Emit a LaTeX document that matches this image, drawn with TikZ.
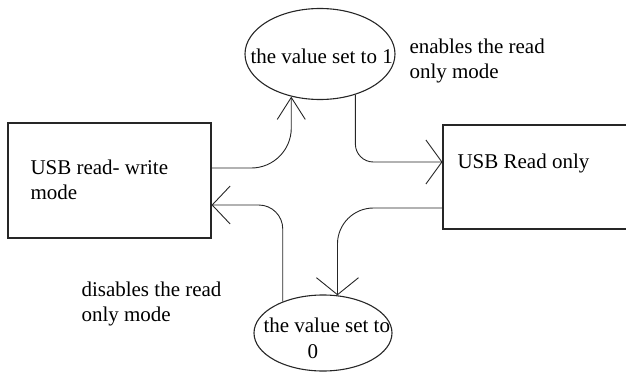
\documentclass[tikz,border=0pt]{standalone}
\usepackage{fontspec}
\setmainfont{Liberation Serif}
\usetikzlibrary{arrows.meta,shapes.geometric}
\begin{document}
\begin{tikzpicture}[x=1pt,y=-1pt,
  line width=1pt,
  shapeline/.style={draw=black!85, line width=1.1pt},
  tbox/.style={shapeline, rectangle, inner sep=0pt},
  oval/.style={shapeline, ellipse, inner sep=0pt},
  lbl/.style={anchor=base west, inner sep=0pt, align=left,
    font=\rmfamily\fontsize{21}{25.5}\selectfont, text=black},
  conn/.style={draw=black!85, line width=0.9pt}]
\useasboundingbox (0,0) rectangle (626,372);

% shapes
\node[tbox, minimum width=203pt, minimum height=115pt] (rw) at (109.5,180.5) {};
\node[tbox, minimum width=200pt, minimum height=104pt] (ro) at (543,177) {};
\node[oval, minimum width=150pt, minimum height=91pt] (e1) at (320,54) {};
\node[oval, minimum width=138pt, minimum height=76pt] (e0) at (323,333) {};

% texts (base anchor of a two-line node is the last line's baseline)
\node[lbl] (trw) at (30,199.5) {USB read- write\\mode};
\node[lbl] (tro) at (457,168) {USB Read only};
\node[lbl] (te1) at (250,63) {the value set to 1};
\node[lbl] (ten) at (409,78.5) {enables the read\\only mode};
\node[lbl] (tdis) at (81,321.5) {disables the read\\only mode};
\node[lbl] (te0a) at (263,332) {the value set to};
\node[lbl] (te0b) at (307,358) {0};

% connectors
\draw[conn, rounded corners=40pt, -{Straight Barb[length=22pt,width=28pt]}]
  ([yshift=12.5pt]rw.east) -| (e1.236);
\draw[conn, rounded corners=18pt, -{Straight Barb[length=16pt,width=44pt]}]
  (e1.311) |- ([yshift=15pt]ro.west);
\draw[conn, rounded corners=36pt, -{Straight Barb[length=17pt,width=42pt]}]
  ([yshift=-31pt]ro.west) -| (e0.69);
\draw[conn, rounded corners=24pt, -{Straight Barb[length=18pt,width=38pt]}]
  (e0.142) |- ([yshift=-24.5pt]rw.east);
\end{tikzpicture}
\end{document}
